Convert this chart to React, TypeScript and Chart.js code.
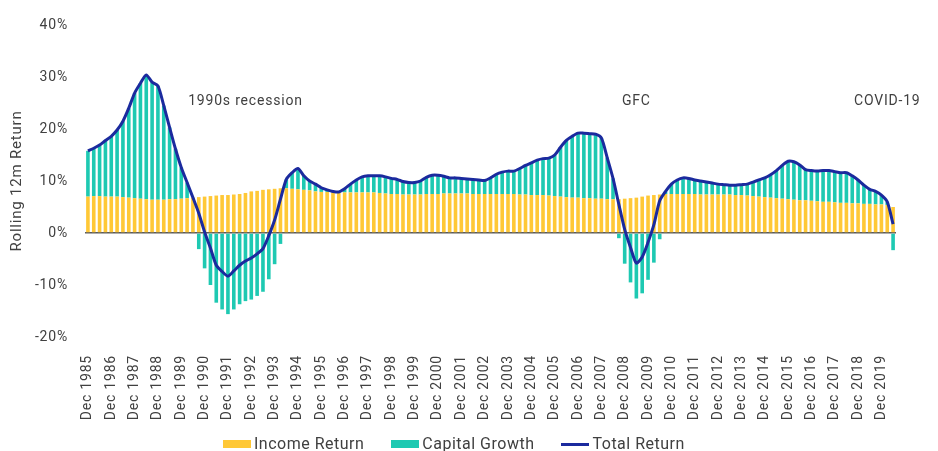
import React, { useEffect, useRef } from 'react';
import { Chart, registerables } from 'chart.js';

Chart.register(...registerables);

// Quarterly categories: Dec 1985 ... Jun 2020
const QUARTER_MONTHS = ['Mar', 'Jun', 'Sep', 'Dec'];
const FIRST_CATEGORY = 'Dec 1985';
const FIRST_FULL_YEAR = 1986;
const LAST_YEAR = 2020;
const QUARTERS_IN_LAST_YEAR = 2;

const categories: string[] = [FIRST_CATEGORY];
for (let y = FIRST_FULL_YEAR; y <= LAST_YEAR; y++) {
  const n = y === LAST_YEAR ? QUARTERS_IN_LAST_YEAR : 4;
  for (let q = 0; q < n; q++) categories.push(`${QUARTER_MONTHS[q]} ${y}`);
}

// Rolling 12m income return (%)
const incomeReturn = [
  7.0, 7.1, 7.1, 7.0, 7.0, 7.0, 6.9, 6.8, 6.7, 6.6,
  6.5, 6.4, 6.4, 6.4, 6.5, 6.5, 6.6, 6.7, 6.8, 6.9,
  7.0, 7.1, 7.2, 7.3, 7.3, 7.4, 7.5, 7.7, 8.0, 8.1,
  8.3, 8.4, 8.5, 8.6, 8.6, 8.5, 8.4, 8.3, 8.2, 8.0,
  7.9, 7.9, 7.8, 7.8, 7.8, 7.8, 7.8, 7.8, 7.8, 7.8,
  7.7, 7.6, 7.5, 7.5, 7.4, 7.4, 7.4, 7.4, 7.5, 7.5,
  7.5, 7.6, 7.6, 7.6, 7.6, 7.6, 7.5, 7.5, 7.5, 7.5,
  7.5, 7.5, 7.5, 7.5, 7.4, 7.4, 7.3, 7.3, 7.3, 7.2,
  7.1, 7.0, 6.9, 6.8, 6.8, 6.7, 6.7, 6.6, 6.6, 6.5,
  6.5, 6.5, 6.6, 6.7, 6.8, 7.0, 7.2, 7.3, 7.4, 7.5,
  7.5, 7.5, 7.5, 7.5, 7.5, 7.4, 7.4, 7.4, 7.4, 7.4,
  7.4, 7.3, 7.3, 7.2, 7.1, 7.0, 6.9, 6.8, 6.7, 6.6,
  6.5, 6.4, 6.3, 6.3, 6.2, 6.1, 6.0, 6.0, 5.9, 5.8,
  5.8, 5.7, 5.7, 5.6, 5.6, 5.5, 5.5, 5.4, 5.0,
];

// Rolling 12m capital growth (%)
const capitalGrowth = [
  8.8, 9.2, 9.8, 10.8, 11.6, 12.8, 14.6, 17.2, 20.2, 22.2,
  23.9, 22.6, 21.9, 18.1, 13.8, 9.7, 6.0, 3.0, 0.0, -3.1,
  -6.8, -10.0, -13.4, -14.7, -15.6, -14.7, -13.7, -13.1, -12.8, -12.1,
  -11.3, -8.9, -6.0, -2.1, 1.7, 3.1, 4.0, 2.7, 1.8, 1.4,
  0.8, 0.4, 0.2, 0.1, 0.7, 1.6, 2.4, 3.0, 3.2, 3.2,
  3.3, 3.2, 3.0, 2.8, 2.5, 2.3, 2.3, 2.6, 3.2, 3.6,
  3.6, 3.3, 3.0, 3.0, 2.9, 2.8, 2.8, 2.7, 2.6, 3.1,
  3.8, 4.2, 4.4, 4.4, 5.0, 5.6, 6.2, 6.7, 7.0, 7.2,
  7.9, 9.5, 10.9, 11.8, 12.4, 12.5, 12.4, 12.4, 11.7, 8.0,
  4.0, -1.0, -5.9, -9.5, -12.6, -11.6, -9.0, -5.7, -1.2, 0.5,
  1.9, 2.7, 3.1, 3.0, 2.7, 2.6, 2.4, 2.2, 2.0, 1.9,
  1.8, 1.9, 2.0, 2.2, 2.7, 3.2, 3.7, 4.4, 5.3, 6.4,
  7.3, 7.3, 6.8, 5.9, 5.8, 5.8, 6.0, 6.0, 5.9, 5.8,
  5.8, 5.3, 4.5, 3.6, 2.8, 2.5, 1.8, 0.6, -3.3,
];

// Total return = income + capital growth
const totalReturn = incomeReturn.map((v, i) => Math.round((v + capitalGrowth[i]) * 10) / 10);

const Y_MIN = -20;
const Y_MAX = 40;
const Y_STEP = 10;

const annotations = [
  { text: '1990s recession', category: 'Sep 1992', value: 25.2 },
  { text: 'GFC', category: 'Jun 2009', value: 25.2 },
  { text: 'COVID-19', category: 'Mar 2020', value: 25.2 },
];

const COLORS = {
  income: '#FFC836',
  capital: '#1EC9B2',
  total: '#1B2A9E',
  text: '#404040',
  zero: '#5a5a5a',
};

const FONT = 'Roboto';

export default function App() {
  const ref = useRef<HTMLCanvasElement | null>(null);

  useEffect(() => {
    if (!ref.current) return;
    const spacing = {
      id: 'spacing',
      beforeUpdate(c: any) { c.ctx.letterSpacing = '0.8px'; },
      beforeLayout(c: any) { c.ctx.letterSpacing = '0.8px'; },
      beforeDraw(c: any) { c.ctx.letterSpacing = '0.8px'; },
    };
    const annot = {
      id: 'annot',
      afterDatasetsDraw(c: any) {
        const { ctx, scales } = c;
        ctx.save();
        ctx.font = `14px ${FONT}`;
        ctx.fillStyle = COLORS.text;
        ctx.textAlign = 'center';
        ctx.textBaseline = 'middle';
        for (const a of annotations) {
          const px = scales.x.getPixelForValue(categories.indexOf(a.category));
          const py = scales.y.getPixelForValue(a.value);
          ctx.fillText(a.text, px, py);
        }
        ctx.restore();
      },
    };
    const chart = new Chart(ref.current, {
      type: 'bar',
      data: {
        labels: categories,
        datasets: [
          {
            type: 'line',
            label: 'Total Return',
            data: totalReturn,
            borderColor: COLORS.total,
            backgroundColor: COLORS.total,
            borderWidth: 3,
            pointRadius: 0,
            tension: 0.25,
            fill: false,
            stack: 'total',
            order: 0,
          } as any,
          {
            label: 'Income Return',
            data: incomeReturn,
            backgroundColor: COLORS.income,
            stack: 'bars',
            order: 1,
            barPercentage: 0.62,
            categoryPercentage: 1,
          },
          {
            label: 'Capital Growth',
            data: capitalGrowth,
            backgroundColor: COLORS.capital,
            stack: 'bars',
            order: 1,
            barPercentage: 0.62,
            categoryPercentage: 1,
          },
        ],
      },
      options: {
        animation: false,
        responsive: false,
        maintainAspectRatio: false,
        layout: { padding: { top: 17, right: 34, left: 0, bottom: 0 } },
        plugins: { legend: { display: false }, tooltip: { enabled: false } },
        scales: {
          x: {
            stacked: true,
            grid: { display: false },
            border: { display: false },
            ticks: {
              autoSkip: false,
              minRotation: 90,
              maxRotation: 90,
              padding: 10,
              color: COLORS.text,
              font: { family: FONT, size: 14 },
              callback: (_v: any, i: number) => (categories[i].startsWith('Dec') ? categories[i] : ''),
            },
            afterFit: (s: any) => { s.height = 114; s.paddingTop = 0; s.paddingBottom = 0; },
          },
          y: {
            stacked: true,
            min: Y_MIN,
            max: Y_MAX,
            ticks: {
              stepSize: Y_STEP,
              padding: 17,
              color: COLORS.text,
              font: { family: FONT, size: 14 },
              callback: (v: any) => `${v}%`,
            },
            grid: {
              drawTicks: false,
              lineWidth: 1.5,
              color: (ctx: any) => (ctx.tick && ctx.tick.value === 0 ? COLORS.zero : 'rgba(0,0,0,0)'),
            },
            border: { display: false },
            title: {
              display: true,
              text: 'Rolling 12m Return',
              color: COLORS.text,
              font: { family: FONT, size: 15 },
              padding: 0,
            },
            afterFit: (s: any) => { s.width = 77; s.paddingTop = 0; s.paddingBottom = 0; },
          },
        },
      } as any,
      plugins: [spacing, annot],
    });
    return () => chart.destroy();
  }, []);

  const legendItems = [
    { label: 'Income Return', color: COLORS.income, kind: 'box' },
    { label: 'Capital Growth', color: COLORS.capital, kind: 'box' },
    { label: 'Total Return', color: COLORS.total, kind: 'line' },
  ];

  return (
    <div style={{ position: 'relative', width: 922, height: 443 }}>
      <canvas ref={ref} width={922} height={443} style={{ display: 'block', width: 922, height: 443 }} />
      <div
        style={{
          position: 'absolute',
          left: 215,
          top: 427,
          display: 'flex',
          alignItems: 'center',
          gap: 27,
          fontFamily: FONT,
          fontSize: 16,
          letterSpacing: '0.5px',
          color: COLORS.text,
          lineHeight: '18px',
          whiteSpace: 'nowrap',
        }}
      >
        {legendItems.map((it) => (
          <div key={it.label} style={{ display: 'flex', alignItems: 'center', gap: 3 }}>
            <span
              style={{
                display: 'inline-block',
                width: 28,
                height: it.kind === 'box' ? 8 : 3,
                background: it.color,
              }}
            />
            <span>{it.label}</span>
          </div>
        ))}
      </div>
    </div>
  );
}
